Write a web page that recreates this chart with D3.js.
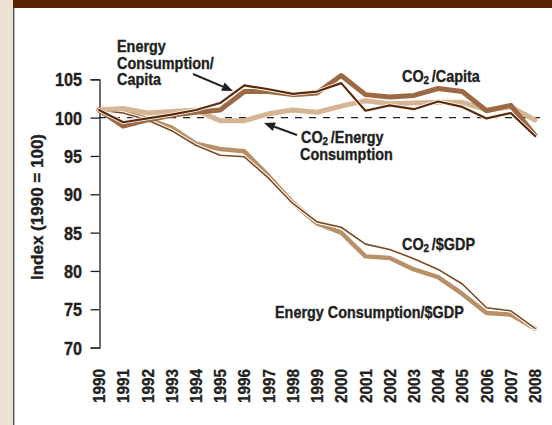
<!DOCTYPE html>
<html>
<head>
<meta charset="utf-8">
<script src="https://cdn.jsdelivr.net/npm/d3@7"></script>
<style>
  html, body { margin: 0; padding: 0; background: #fff; }
  svg { display: block; }
  text { font-family: "Liberation Sans", Arial, sans-serif; font-weight: bold; fill: #231f20; stroke: #231f20; stroke-width: 0.35px; }
</style>
</head>
<body>
<svg id="chart" width="552" height="425"></svg>
<script>
// Years on the x axis
const years = d3.range(1990, 2009);

// Index values (1990 = 100) for each indicator
const co2PerCapita      = [101.0, 98.9, 99.7, 100.3, 100.7, 101.0, 103.4, 103.4, 103.0, 103.2, 105.5, 103.0, 102.7, 102.9, 103.8, 103.4, 100.9, 101.6, 97.7];
const energyPerCapita   = [101.0, 99.4, 99.9, 100.4, 101.0, 101.9, 104.2, 103.7, 103.1, 103.4, 104.5, 100.9, 101.6, 101.1, 102.1, 101.4, 99.9, 100.6, 97.6];
const co2PerEnergy      = [101.0, 101.2, 100.6, 100.8, 101.0, 99.6, 99.6, 100.5, 101.0, 100.7, 101.5, 102.2, 101.8, 101.9, 102.0, 102.0, 101.0, 101.4, 99.7];
const co2PerGdp         = [101.0, 100.6, 99.7, 98.3, 96.4, 95.1, 94.9, 92.1, 88.8, 86.4, 85.7, 83.5, 82.8, 81.6, 80.2, 78.3, 75.2, 74.8, 72.5];
const energyPerGdp      = [101.0, 100.8, 99.8, 98.7, 96.6, 95.9, 95.6, 92.4, 88.9, 86.2, 85.0, 81.9, 81.7, 80.2, 79.2, 77.0, 74.5, 74.3, 72.5];

// Y axis ticks
const yTicks = [70, 75, 80, 85, 90, 95, 100, 105];
const baseline = 100;

// Horizontal squeeze that gives the bold face a condensed look
const SQUEEZE = 0.9;

const svg = d3.select("#chart");

// Frame: beige side strip, rule, dark header band
svg.append("rect").attr("x", 0).attr("y", 0).attr("width", 13).attr("height", 425).attr("fill", "#ede1d4");
svg.append("rect").attr("x", 13).attr("y", 0).attr("width", 539).attr("height", 8).attr("fill", "#562500");
svg.append("line").attr("x1", 13.7).attr("x2", 13.7).attr("y1", 8).attr("y2", 425)
  .attr("stroke", "#5a5a5a").attr("stroke-width", 1.5);

const x = d3.scaleLinear().domain([1990, 2008]).range([99, 535]);
const y = d3.scaleLinear().domain([70, 105]).range([347.6, 79.3]);

// Y axis
const yAxis = d3.axisLeft(y).tickValues(yTicks).tickSize(9).tickPadding(8).tickFormat(d3.format("d"));
const gy = svg.append("g").attr("transform", "translate(99.5,0)").call(yAxis);
gy.select(".domain").attr("stroke", "#231f20").attr("stroke-width", 1.3);
gy.selectAll(".tick line").attr("stroke", "#231f20").attr("stroke-width", 1.3);
gy.selectAll(".tick text")
  .attr("x", null)
  .attr("transform", `translate(-17.5,0) scale(${SQUEEZE},1)`)
  .attr("dy", "0.36em")
  .attr("fill", "#231f20")
  .style("font-size", "18px")
  .style("font-family", "'Liberation Sans', Arial, sans-serif")
  .style("font-weight", "bold");

// Y axis title
svg.append("text")
  .attr("transform", "translate(43,207) rotate(-90)")
  .attr("text-anchor", "middle")
  .style("font-size", "17px")
  .text("Index (1990 = 100)");

// X labels, rotated
svg.append("g").selectAll("text").data(years).join("text")
  .attr("transform", d => `translate(${x(d)},369) rotate(-90) scale(${SQUEEZE},1)`)
  .attr("text-anchor", "end")
  .attr("dy", "0.36em")
  .style("font-size", "17px")
  .text(d => d);

// Reference line at 100
svg.append("line")
  .attr("x1", x(1990)).attr("x2", 547)
  .attr("y1", y(baseline)).attr("y2", y(baseline))
  .attr("stroke", "#231f20").attr("stroke-width", 1.2)
  .attr("stroke-dasharray", "7,7");

const line = d3.line().x((d, i) => x(years[i])).y(d => y(d));

function drawSeries(values, color, width, casing) {
  if (casing) {
    svg.append("path").attr("d", line(values)).attr("fill", "none")
      .attr("stroke", "#fff").attr("stroke-width", width + casing)
      .attr("stroke-linejoin", "round").attr("stroke-linecap", "round");
  }
  svg.append("path").attr("d", line(values)).attr("fill", "none")
    .attr("stroke", color).attr("stroke-width", width)
    .attr("stroke-linejoin", "round").attr("stroke-linecap", "round");
}

drawSeries(energyPerGdp, "#b98f68", 4.5, 0);
drawSeries(co2PerGdp, "#7b4a20", 1.6, 2);
drawSeries(co2PerEnergy, "#d5b593", 5, 0);
drawSeries(co2PerCapita, "#9c6942", 5, 0);
drawSeries(energyPerCapita, "#5b2a0a", 2.2, 1.6);

// Annotations: "CO" + subscript 2 + remainder, or a plain line
function label(xPos, yPos, txt, sub, rest) {
  const t = svg.append("text")
    .attr("transform", `translate(${xPos},${yPos}) scale(${SQUEEZE},1)`)
    .style("font-size", "16px");
  t.append("tspan").text(txt);
  if (sub) {
    t.append("tspan").attr("dy", 2).style("font-size", "11px").text(sub);
    t.append("tspan").attr("dy", -2).attr("dx", 3).text(rest);
  }
  return t;
}

label(117, 52, "Energy");
label(117, 68.5, "Consumption/");
label(117, 85, "Capita");

label(402, 82, "CO", "2", "/Capita");
label(301, 143, "CO", "2", "/Energy");
label(300, 160, "Consumption");
label(402, 250, "CO", "2", "/$GDP");
label(275, 318, "Energy Consumption/$GDP");

// Pointer arrows
function arrow(x1, y1, x2, y2) {
  const ang = Math.atan2(y2 - y1, x2 - x1);
  const len = 11, half = 4.5;
  const bx = x2 - len * Math.cos(ang), by = y2 - len * Math.sin(ang);
  svg.append("line").attr("x1", x1).attr("y1", y1).attr("x2", bx).attr("y2", by)
    .attr("stroke", "#231f20").attr("stroke-width", 2);
  const pts = [
    [x2, y2],
    [bx + half * Math.sin(ang), by - half * Math.cos(ang)],
    [bx - half * Math.sin(ang), by + half * Math.cos(ang)]
  ];
  svg.append("polygon").attr("points", pts.map(p => p.join(",")).join(" ")).attr("fill", "#231f20");
}
arrow(193, 74, 233, 91);
arrow(297, 135, 264, 123);
</script>
</body>
</html>
